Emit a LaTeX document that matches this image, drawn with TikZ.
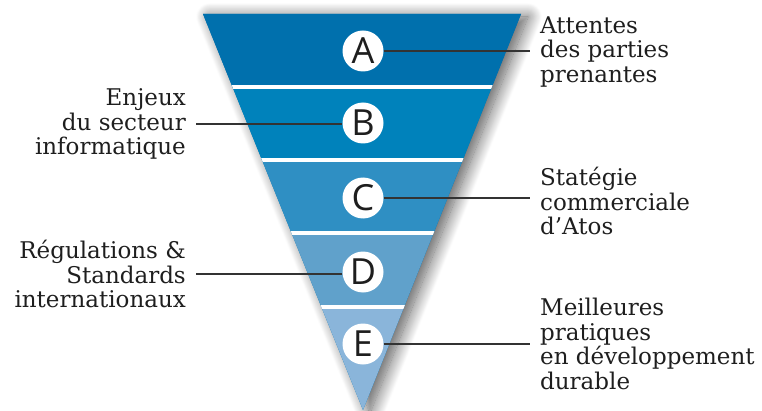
\documentclass[tikz,border=0pt]{standalone}
\usepackage{fontspec}
\setmainfont{DejaVu Serif}
\newfontfamily\lettfont{Open Sans}
\usetikzlibrary{shadows.blur}
\definecolor{bandA}{HTML}{0070AD}
\definecolor{bandB}{HTML}{0082BB}
\definecolor{bandC}{HTML}{2F8FC3}
\definecolor{bandD}{HTML}{60A1CB}
\definecolor{bandE}{HTML}{8AB5DA}
\definecolor{leadgray}{HTML}{333333}
\definecolor{txt}{HTML}{1E1E1E}
\tikzset{
  letter/.style={circle, fill=white, minimum size=41pt, inner sep=0pt, font=\lettfont\fontsize{36}{36}\selectfont, text=txt},
  rlabel/.style={anchor=west, inner xsep=10pt, inner ysep=0pt, align=left, font=\fontsize{23}{24.6}\selectfont, text=txt},
  llabel/.style={anchor=east, inner xsep=10pt, inner ysep=0pt, align=right, font=\fontsize{23}{24.6}\selectfont, text=txt},
  leader/.style={draw=leadgray, line width=1.3pt},
  sep/.style={white, line width=4pt}
}
\begin{document}
\begin{tikzpicture}[x=1pt,y=1pt]
\useasboundingbox (0,0) rectangle (762,410);
\coordinate (TL) at (203,396);
\coordinate (TR) at (521,396);
\coordinate (AP) at (363,0);
\fill[bandA, blur shadow={shadow xshift=7pt, shadow yshift=-3pt, shadow blur radius=14pt, shadow blur steps=20, shadow opacity=65}] (TL) -- (TR) -- (AP) -- cycle;
\begin{scope}
  \clip (TL) -- (TR) -- (AP) -- cycle;
  \fill[bandA] (150,323) rectangle (600,410);
  \fill[bandB] (150,250) rectangle (600,323);
  \fill[bandC] (150,177) rectangle (600,250);
  \fill[bandD] (150,103) rectangle (600,177);
  \fill[bandE] (150,-5) rectangle (600,103);
  \draw[sep] (150,323) -- (600,323);
  \draw[sep] (150,250) -- (600,250);
  \draw[sep] (150,177) -- (600,177);
  \draw[sep] (150,103) -- (600,103);
\end{scope}
\node[letter] (cA) at (363,359) {A};
\node[letter] (cB) at (363,287) {B};
\node[letter] (cC) at (363,212) {C};
\node[letter] (cD) at (363,138) {D};
\node[letter] (cE) at (363,66) {E};
\node[rlabel] (tA) at (530,358) {Attentes\\des parties\\prenantes};
\node[llabel] (tB) at (196,286) {Enjeux\\du secteur\\informatique};
\node[rlabel] (tC) at (530,209) {Statégie\\commerciale\\d’Atos};
\node[llabel] (tD) at (196,136) {Régulations \&\\Standards\\internationaux};
\node[rlabel] (tE) at (530,66) {Meilleures\\pratiques\\en développement\\durable};
\draw[leader] (cA.east) -- (cA.east -| tA.west);
\draw[leader] (tB.east) -- (tB.east -| cB.west);
\draw[leader] (cC.east) -- (cC.east -| tC.west);
\draw[leader] (tD.east) -- (tD.east -| cD.west);
\draw[leader] (cE.east) -- (cE.east -| tE.west);
\end{tikzpicture}
\end{document}
